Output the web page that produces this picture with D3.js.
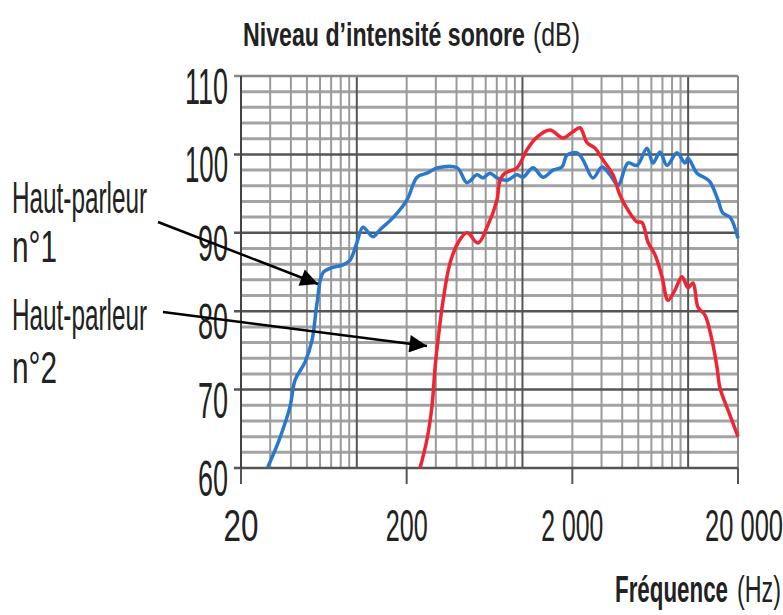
<!DOCTYPE html>
<html>
<head>
<meta charset="utf-8">
<script src="https://cdn.jsdelivr.net/npm/d3@7"></script>
<style>
  body { margin: 0; background: #fff; }
  text { font-family: "Liberation Sans", Arial, sans-serif; fill: #222; }
</style>
</head>
<body>
<div id="chart"></div>
<script>
var w = 783;
var h = 615;

// Haut-parleur n°1 (bleu)
var freq1 = [29, 34, 39.5, 42.4, 48.7, 53.7, 57.5, 62.5, 71.8, 82.6, 91, 100, 109, 125, 138, 165, 201, 231, 265, 309, 403, 462, 532, 578, 637, 702, 806, 927, 1007, 1158, 1330, 1529, 1732, 1857, 2135, 2320, 2666, 3020, 3375, 3774, 4335, 4910, 5645, 6137, 6763, 7453, 8564, 9572, 9985, 11311, 12640, 13550, 15140, 16220, 17890, 20000];
var db1 = [60.1, 63.6, 67.8, 71.2, 73.5, 76.3, 81.0, 84.9, 85.6, 85.9, 86.5, 88.7, 90.7, 89.5, 90.4, 91.9, 94.2, 97.1, 97.6, 98.3, 98.3, 96.4, 97.4, 97.0, 97.6, 97.0, 96.7, 97.4, 97.1, 98.3, 97.1, 98.0, 98.4, 99.9, 100.2, 99.3, 97.0, 98.4, 97.4, 96.1, 98.9, 98.6, 100.8, 98.9, 100.3, 98.6, 100.2, 98.9, 99.5, 97.6, 97.0, 96.5, 94.2, 92.5, 92.0, 89.3];

// Haut-parleur n°2 (rouge)
var freq2 = [241, 265, 284, 297, 309, 332, 365, 408, 462, 539, 611, 702, 732, 784, 927, 1065, 1224, 1466, 1756, 2018, 2225, 2453, 2741, 3062, 3520, 3880, 4458, 4910, 5268, 5725, 6311, 6954, 7558, 8331, 9181, 9985, 10700, 11470, 12640, 13930, 14930, 15570, 17400, 20000];
var db2 = [60.0, 63.6, 67.8, 72.9, 76.3, 81.4, 86.1, 88.7, 90.0, 88.7, 90.7, 94.2, 96.7, 97.6, 98.3, 100.6, 102.2, 103.1, 102.1, 102.9, 103.4, 101.5, 100.8, 99.3, 97.4, 94.8, 92.5, 91.4, 91.3, 88.8, 87.2, 84.4, 81.4, 82.7, 84.4, 83.0, 83.6, 80.5, 79.5, 76.3, 72.9, 70.2, 67.4, 64.0];

var xTicks = [20, 200, 2000, 20000];
var xTickLabels = ["20", "200", "2 000", "20 000"];
var yTicks = [60, 70, 80, 90, 100, 110];

var pl = 241, pr = 738, pt = 76, pb = 468;

var x = d3.scaleLog().domain([20, 20000]).range([pl, pr]);
var y = d3.scaleLinear().domain([60, 110]).range([pb, pt]);

var svg = d3.select("#chart")
	.append("svg")
	.attr("width", w)
	.attr("height", h);

// horizontal grid
var minorY = d3.range(60, 111, 2).filter(function(d) { return d % 10 != 0; });
svg.selectAll("line.hminor")
	.data(minorY)
	.enter()
	.append("line")
	.attr("x1", pl).attr("x2", pr)
	.attr("y1", function(d) { return y(d); })
	.attr("y2", function(d) { return y(d); })
	.attr("stroke", "#a3a3a3")
	.attr("stroke-width", 3);

// vertical grid
var minorX = [];
[10, 100, 1000, 10000].forEach(function(p) {
	for (var k = 2; k <= 9; k++) {
		var f = k * p;
		if (f > 20 && f < 20000) minorX.push(f);
	}
});
svg.selectAll("line.vminor")
	.data(minorX)
	.enter()
	.append("line")
	.attr("x1", function(d) { return x(d); })
	.attr("x2", function(d) { return x(d); })
	.attr("y1", pt).attr("y2", pb)
	.attr("stroke", "#9a9a9a")
	.attr("stroke-width", 2);

svg.selectAll("line.vmajor")
	.data([100, 1000, 10000])
	.enter()
	.append("line")
	.attr("x1", function(d) { return x(d); })
	.attr("x2", function(d) { return x(d); })
	.attr("y1", pt).attr("y2", pb)
	.attr("stroke", "#555")
	.attr("stroke-width", 2);

svg.append("line")
	.attr("x1", pr).attr("x2", pr)
	.attr("y1", pt).attr("y2", pb + 16)
	.attr("stroke", "#888")
	.attr("stroke-width", 2);

svg.selectAll("line.hmajor")
	.data(yTicks)
	.enter()
	.append("line")
	.attr("x1", pl - 7).attr("x2", pr)
	.attr("y1", function(d) { return y(d); })
	.attr("y2", function(d) { return y(d); })
	.attr("stroke", function(d) { return d == 110 ? "#888" : "#555"; })
	.attr("stroke-width", 2.5);

// axis line + ticks
svg.append("line")
	.attr("x1", pl).attr("x2", pl)
	.attr("y1", pt).attr("y2", pb + 16)
	.attr("stroke", "#444")
	.attr("stroke-width", 2);

svg.selectAll("line.xtick")
	.data(xTicks)
	.enter()
	.append("line")
	.attr("x1", function(d) { return x(d); })
	.attr("x2", function(d) { return x(d); })
	.attr("y1", pb).attr("y2", pb + 16)
	.attr("stroke", "#555")
	.attr("stroke-width", 2);

// helper for condensed text
function label(tx, ty, str, len, size, weight, anchor) {
	return svg.append("text")
		.attr("x", tx).attr("y", ty)
		.attr("font-size", size)
		.attr("font-weight", weight)
		.attr("text-anchor", anchor)
		.attr("textLength", len)
		.attr("lengthAdjust", "spacingAndGlyphs")
		.text(str);
}

// y tick labels
yTicks.forEach(function(d) {
	var s = String(d);
	label(228, y(d) + 28, s, s.length == 3 ? 43 : 30, 50, "normal", "end");
});

// x tick labels
var xLabelW = [35, 42, 62, 78];
xTicks.forEach(function(d, i) {
	var cx = x(d);
	if (i == 3) cx = 744;
	label(cx, 541, xTickLabels[i], xLabelW[i], 44, "normal", "middle");
});

// curves
var line = d3.line()
	.x(function(d) { return x(d[0]); })
	.y(function(d) { return y(d[1]); })
	.curve(d3.curveCatmullRom.alpha(0.5));

svg.append("path")
	.datum(d3.zip(freq1, db1))
	.attr("d", line)
	.attr("fill", "none")
	.attr("stroke", "#2a78cc")
	.attr("stroke-width", 3.5)
	.attr("stroke-linejoin", "round");

svg.append("path")
	.datum(d3.zip(freq2, db2))
	.attr("d", line)
	.attr("fill", "none")
	.attr("stroke", "#ee2533")
	.attr("stroke-width", 3.5)
	.attr("stroke-linejoin", "round");

// titles
label(243, 46, "Niveau d\u2019intensit\u00e9 sonore", 282, 33, "bold", "start");
label(533, 46, "(dB)", 47, 33, "normal", "start");
label(615, 602, "Fr\u00e9quence", 113, 37, "bold", "start");
label(737, 602, "(Hz)", 44, 37, "normal", "start");

// annotations
label(12, 213, "Haut-parleur", 135, 45, "normal", "start");
label(12, 262, "n\u00b01", 45, 45, "normal", "start");
label(12, 330, "Haut-parleur", 135, 45, "normal", "start");
label(12, 383, "n\u00b02", 45, 45, "normal", "start");

svg.append("defs").append("marker")
	.attr("id", "arrow")
	.attr("viewBox", "0 0 10 10")
	.attr("refX", 10).attr("refY", 5)
	.attr("markerWidth", 8).attr("markerHeight", 7)
	.attr("markerUnits", "strokeWidth")
	.attr("orient", "auto")
	.append("path")
	.attr("d", "M0,0 L10,5 L0,10 Z")
	.attr("fill", "#000");

svg.append("line")
	.attr("x1", 158).attr("y1", 222)
	.attr("x2", 318).attr("y2", 284)
	.attr("stroke", "#000").attr("stroke-width", 2.5)
	.attr("marker-end", "url(#arrow)");

svg.append("line")
	.attr("x1", 163).attr("y1", 312)
	.attr("x2", 427).attr("y2", 346)
	.attr("stroke", "#000").attr("stroke-width", 2.5)
	.attr("marker-end", "url(#arrow)");
</script>
</body>
</html>
